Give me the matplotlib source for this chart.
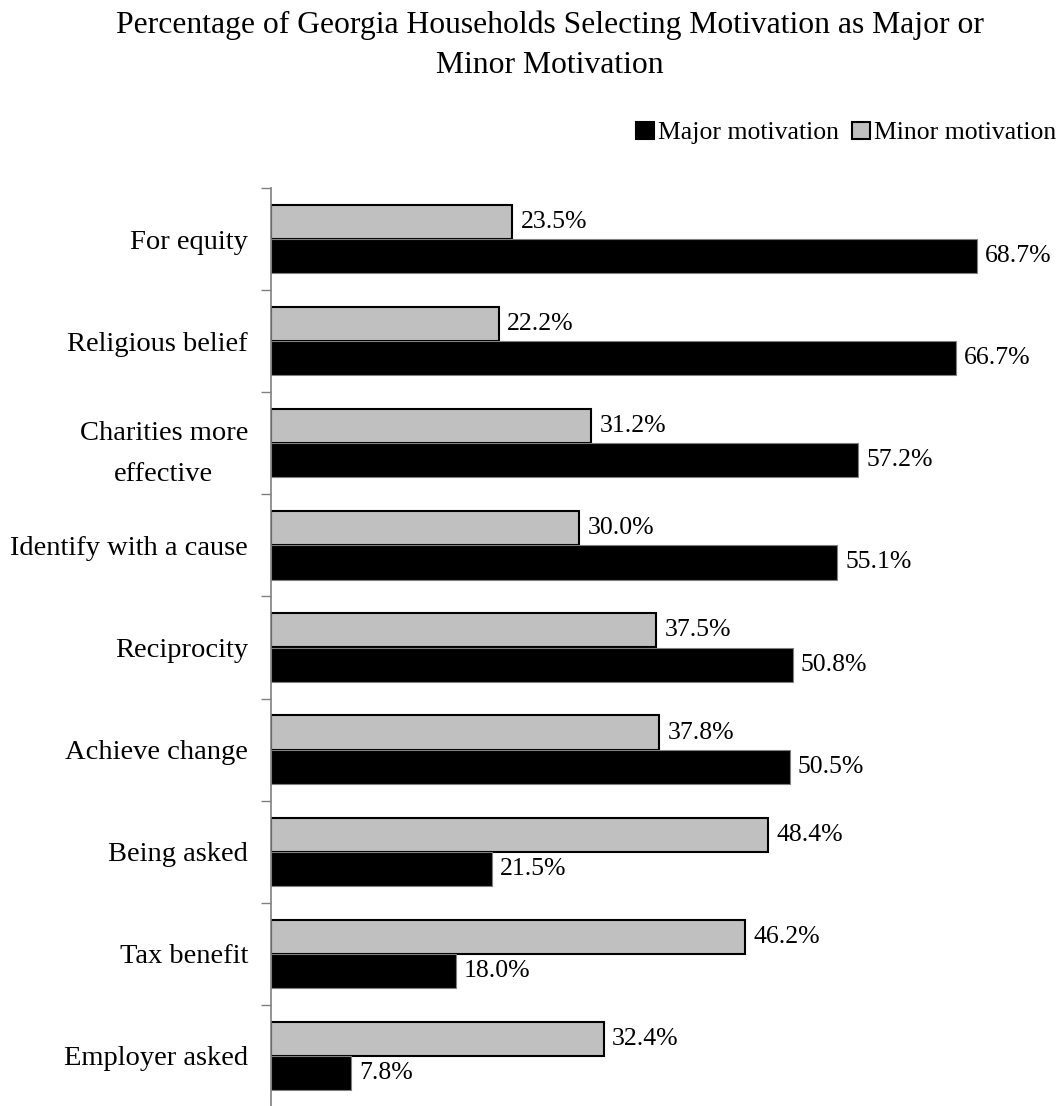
import matplotlib
matplotlib.use("Agg")
import matplotlib.pyplot as plt
from matplotlib.patches import Patch
import numpy as np

categories = ["For equity", "Religious belief", "Charities more\neffective",
              "Identify with a cause", "Reciprocity", "Achieve change",
              "Being asked", "Tax benefit", "Employer asked"]
major = [68.7, 66.7, 57.2, 55.1, 50.8, 50.5, 21.5, 18.0, 7.8]
minor = [23.5, 22.2, 31.2, 30.0, 37.5, 37.8, 48.4, 46.2, 32.4]
series_names = ["Major motivation", "Minor motivation"]
title = "Percentage of Georgia Households Selecting Motivation as Major or\nMinor Motivation"

plt.rcParams['font.family'] = ['Liberation Serif', 'DejaVu Serif']

W, H = 1063, 1106
fig = plt.figure(figsize=(W / 100, H / 100), dpi=100)
left = 271 / W
bottom = -1 / H
ax = fig.add_axes([left, bottom, 1 - left, (H - 188) / H - bottom])

n = len(categories)
y = np.arange(n)
h = 0.335
ax.barh(y - h / 2, minor, height=h, color="#c0c0c0", edgecolor="black", linewidth=1.5)
ax.barh(y + h / 2, major, height=h, color="black", edgecolor="#808080", linewidth=0.8)

ax.set_ylim(n - 0.5, -0.5)
ax.set_xlim(0, (W - 271) / 10.27)

fs_cat = 20.5
fs_val = 18.5
for i in range(n):
    ax.text(minor[i] + 0.8, y[i] - h / 2, f"{minor[i]:.1f}%", va="center", ha="left", fontsize=fs_val)
    ax.text(major[i] + 0.8, y[i] + h / 2, f"{major[i]:.1f}%", va="center", ha="left", fontsize=fs_val)

ax.set_yticks(np.arange(n + 1) - 0.5)
ax.set_yticklabels([])
ax.tick_params(axis="y", which="major", length=7, color="#808080", width=1)
ax.set_yticks(y, minor=True)
ax.set_yticklabels(categories, minor=True, fontsize=fs_cat, ha="right", multialignment="center",
                   linespacing=1.85)
ax.tick_params(axis="y", which="minor", length=0, pad=16.5)
ax.set_xticks([])
for s in ["top", "right", "bottom"]:
    ax.spines[s].set_visible(False)
ax.spines["left"].set_color("#808080")
ax.spines["left"].set_linewidth(1.2)

fig.text(550 / W, 1 - 10 / H, title, ha="center", va="top", fontsize=22.8, linespacing=1.53,
         multialignment="center")

handles = [Patch(facecolor="black", edgecolor="black", linewidth=1.5),
           Patch(facecolor="#c0c0c0", edgecolor="black", linewidth=1.5)]
fig.legend(handles, series_names, loc="center right", bbox_to_anchor=(1056 / W, 1 - 133 / H),
           ncol=2, frameon=False, fontsize=fs_val, handlelength=0.7, handleheight=0.7,
           handletextpad=0.15, columnspacing=0.5, borderaxespad=0, borderpad=0)

fig.savefig("out.png", dpi=100)
